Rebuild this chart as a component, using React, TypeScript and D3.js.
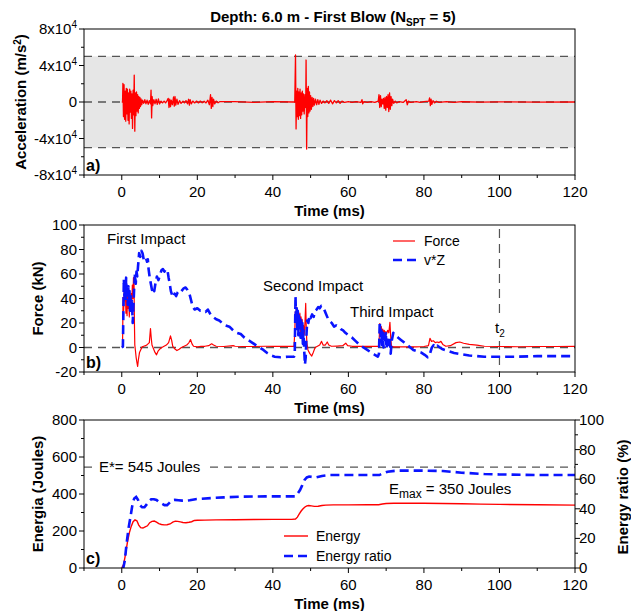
import React from "react";
import * as d3 from "d3";

const FONT = '"Liberation Sans", Arial, Helvetica, sans-serif';

// ---- shared time axis ----
const timeDomain = [-10, 120];
const timeTicks = [0, 20, 40, 60, 80, 100, 120];
const timeMinorTicks = [-10, 10, 30, 50, 70, 90, 110];

// ---- a) acceleration (units of 10^4 m/s²) ----
const accTicks = [8, 4, 0, -4, -8];
const accMinorTicks = [6, 2, -2, -6];
const accLimit = 5;
const accTime = [
  0, 0.2, 0.3, 0.45, 0.6, 0.75, 0.9, 1.05, 1.2, 1.35, 1.5, 1.65, 1.8, 1.95, 2.1, 2.25, 2.4, 2.55, 2.7, 2.85,
  3.0, 3.15, 3.3, 3.45, 3.6, 3.75, 3.9, 4.05, 4.2, 4.35, 4.5, 4.65, 4.8, 4.95, 5.1, 5.3, 5.5, 5.8, 6.1, 6.4,
  6.7, 7.0, 7.3, 7.6, 7.75, 7.9, 8.05, 8.2, 8.5, 8.8, 9.1, 9.4, 9.7, 10.0, 10.4, 10.8, 11.2, 11.6, 12.0, 12.3,
  12.5, 12.7, 12.9, 13.1, 13.4, 13.7, 13.9, 14.1, 14.3, 14.6, 14.9, 15.3, 15.7, 16.2, 16.6, 17.0, 17.4, 17.7, 17.9, 18.1,
  18.4, 18.8, 19.3, 19.8, 20.3, 20.8, 21.3, 21.8, 22.3, 22.8, 23.2, 23.5, 23.7, 23.9, 24.1, 24.3, 24.6, 25.0, 25.5, 26,
  30, 35, 40, 45.5, 45.8, 46.0, 46.15, 46.3, 46.45, 46.6, 46.75, 46.9, 47.05, 47.2, 47.35, 47.5, 47.65, 47.8, 47.95, 48.1,
  48.3, 48.5, 48.7, 48.8, 48.95, 49.1, 49.25, 49.4, 49.55, 49.7, 49.85, 50.0, 50.2, 50.4, 50.6, 50.8, 51.0, 51.3, 51.6, 51.9,
  52.2, 52.5, 52.9, 53.3, 53.8, 54.3, 54.8, 55.3, 55.8, 56.3, 56.8, 57.3, 57.8, 58.3, 59, 60, 61, 62, 63.3, 63.6,
  63.8, 64.1, 65, 66, 67, 67.9, 68.1, 68.3, 68.5, 68.7, 68.9, 69.1, 69.3, 69.5, 69.7, 69.9, 70.1, 70.3, 70.5, 70.7,
  70.9, 71.1, 71.3, 71.5, 71.7, 72.0, 72.4, 72.8, 73.5, 74.5, 75.3, 75.6, 75.9, 76.5, 78, 79, 80, 81.3, 81.5, 81.7,
  81.9, 82.1, 82.4, 82.8, 83.3, 84, 86, 88, 90, 95, 100, 110, 120,
];
const accValue = [
  0, 0, 2.05, -1.6, 1.9, -1.9, 1.2, -2.1, 1.5, -1.3, 1.4, -2.0, 1.0, -2.4, 1.4, -1.1, 1.2, -1.8, 0.9, -2.9,
  1.3, -1.4, 2.95, -3.2, 1.0, -1.5, 1.1, -1.0, 0.8, -1.2, 0.6, -0.7, 0.5, -0.5, 0.35, -0.3, 0.2, -0.15, 0.25, -0.2,
  0.2, -0.25, 0.15, -0.2, 1.3, -1.75, 0.6, -0.4, 0.25, -0.2, 0.3, -0.25, 0.35, -0.2, 0.1, -0.1, 0.1, -0.1, 0.15, 0.4,
  -0.6, 0.3, -0.5, 0.2, -0.3, 0.55, -0.45, 0.6, -0.35, 0.3, -0.25, 0.15, -0.15, 0.1, -0.1, 0.15, -0.2, 0.3, -0.35, 0.25,
  -0.2, 0.1, -0.1, 0.1, -0.1, 0.1, -0.08, 0.08, -0.1, 0.2, -0.3, 0.8, -0.7, 0.5, -0.5, 0.3, -0.2, 0.1, -0.08, 0.05,
  0.05, -0.04, 0.04, 0, 0, 5.15, -2.95, 1.2, -1.6, 1.5, -1.9, 1.1, -1.5, 1.4, -1.8, 1.0, -1.4, 1.2, -1.0, 0.9,
  -1.3, 0.8, -0.6, 4.6, -5.15, 1.5, -1.6, 1.7, -1.2, 1.1, -1.0, 0.7, -0.8, 0.5, -0.5, 0.4, -0.35, 0.3, -0.3, 0.25,
  -0.25, 0.2, -0.15, 0.1, -0.1, 0.15, -0.15, 0.2, -0.2, 0.15, -0.1, 0.15, -0.15, 0.1, -0.05, 0.05, -0.05, 0.05, -0.05, 0.25,
  -0.2, 0.05, -0.04, 0.04, -0.05, 0.1, 0.8, -0.6, 0.7, -0.5, 0.3, -0.2, 0.4, -0.7, 0.5, -0.9, 0.6, -0.6, 0.8, -1.05,
  1.0, -0.8, 0.6, -0.4, 0.3, -0.15, 0.1, -0.1, 0.05, -0.05, 0.25, -0.3, 0.1, -0.05, 0.05, -0.05, 0.05, 0.1, 0.45, -0.4,
  0.3, -0.25, 0.15, -0.1, 0.08, -0.05, 0.04, -0.03, 0.03, -0.02, 0.02, -0.01, 0,
];

// ---- b) force and v*Z (kN) ----
const forceTicks = [100, 80, 60, 40, 20, 0, -20];
const forceMinorTicks = [90, 70, 50, 30, 10, -10];
const t2 = 100;
const forceTime = [
  0.0, 0.2, 0.35, 0.5, 0.65, 0.8, 0.95, 1.1, 1.25, 1.4, 1.55, 1.7, 1.85, 2.0, 2.15, 2.3, 2.5, 2.65, 2.8, 2.95,
  3.1, 3.25, 3.35, 3.45, 3.6, 3.8, 4.0, 4.2, 4.4, 4.7, 5.0, 5.4, 5.8, 6.3, 6.8, 7.3, 7.6, 7.8, 8.0, 8.4,
  8.8, 9.2, 9.6, 10.0, 10.6, 11.2, 11.8, 12.4, 12.9, 13.2, 13.5, 14.0, 14.6, 15.2, 15.8, 16.5, 17.2, 17.8, 18.2, 18.6,
  19.0, 20, 21, 22, 23, 23.8, 24.3, 25, 27, 29.5, 30, 32, 35, 38, 40, 42, 44, 45.6, 45.8, 45.95,
  46.1, 46.25, 46.4, 46.55, 46.7, 46.85, 47.0, 47.15, 47.3, 47.45, 47.6, 47.75, 47.9, 48.1, 48.3, 48.5, 48.7, 48.85, 49.0, 49.3,
  49.8, 50.3, 50.7, 51.2, 51.8, 52.4, 52.9, 53.3, 53.9, 54.4, 54.8, 55.5, 57, 58.5, 59.3, 59.8, 61, 63, 65, 67,
  68.1, 68.3, 68.5, 68.7, 68.9, 69.1, 69.3, 69.5, 69.7, 69.9, 70.1, 70.4, 70.7, 71.0, 71.2, 71.4, 72, 74, 76, 78,
  80, 81.2, 81.6, 82.0, 82.5, 83, 83.5, 84.0, 84.5, 85, 85.8, 87, 88.5, 89.5, 90.5, 92, 94, 96, 100, 105,
  110, 115, 120,
];
const forceValue = [
  0.5, 0.6, 41, 30, 46, 38, 49, 28, 43, 26, 45, 32, 40, 25, 37, 30, 44, 34, 51, 40,
  57, 53, 20, 2, -2, -8, -12, -15.5, -10, -4, -2, 0.5, 1, 1.5, 2.5, 4, 15.5, 8, 2, -1,
  -4, -6, -3, -1.5, 0, 1, 2, 4, 9.5, 6, 1, -1, -2.5, -1.5, 0, 1, 2, 4, 6.5, 3,
  1, 0.5, 1, 1, 1.5, 3, 2, 1, 0.8, 1.5, 1, 0.8, 0.8, 1, 1, 1, 1, 1, 12, 29,
  22, 33, 18, 30, 14, 27, 20, 28, 12, 25, 17, 23, 9, 18, 10, 20, 36, 15, 4, -2,
  -5, -7, -4, 0, 1, 2, 5, 2, 2, 4.5, 2, 1, 1.2, 1.5, 3.5, 1.5, 1, 1, 1, 1,
  1, 19.5, 14, 17, 12, 15, 11, 14, 10, 13, 11, 14, 12, 20.5, 9, 1, 0.5, 0.6, 0.5, 0.5,
  0.8, 1.5, 7.5, 5, 5.5, 4, 4.5, 4, 5, 2.5, 1, 1.5, 4, 4.5, 3.5, 2.5, 2, 1, 0.8, 0.6,
  0.8, 0.8, 1,
];
const vzTime = [
  0.0, 0.3, 0.55, 0.7, 0.85, 1.0, 1.15, 1.3, 1.45, 1.6, 1.75, 1.9, 2.05, 2.2, 2.35, 2.5, 2.7, 2.9, 3.1, 3.3,
  3.5, 3.7, 3.9, 4.1, 4.3, 4.6, 4.9, 5.2, 5.5, 5.8, 6.1, 6.4, 6.7, 6.9, 7.1, 7.4, 7.7, 8.0, 8.3, 8.6,
  8.9, 9.3, 9.7, 10.1, 10.5, 10.9, 11.3, 11.7, 12.1, 12.4, 12.7, 13.0, 13.3, 13.6, 14.0, 14.4, 14.8, 15.3, 15.8, 16.3,
  16.9, 17.4, 17.9, 18.4, 18.8, 19.3, 20.0, 20.8, 21.5, 22.2, 22.8, 23.5, 24.2, 25.0, 25.8, 26.6, 27.5, 28.5, 29.5, 30.5,
  31.5, 32.5, 33.5, 34.5, 35.5, 36.5, 37.5, 38.5, 39.5, 40.5, 42, 44, 45.6, 45.8, 46.0, 46.15, 46.3, 46.45, 46.6, 46.75,
  46.9, 47.05, 47.2, 47.35, 47.5, 47.65, 47.8, 47.95, 48.1, 48.3, 48.5, 48.7, 48.9, 49.1, 49.4, 49.7, 50.0, 50.4, 50.8, 51.2,
  51.6, 52.0, 52.4, 52.8, 53.2, 53.6, 54.0, 54.4, 54.8, 55.2, 55.6, 56.2, 56.8, 57.4, 58.0, 58.6, 59.2, 60.0, 61.0, 62.0,
  63.0, 64.0, 65.0, 66.0, 67.0, 67.8, 68.1, 68.3, 68.5, 68.7, 68.9, 69.1, 69.3, 69.5, 69.7, 69.9, 70.1, 70.3, 70.6, 70.9,
  71.2, 71.5, 71.9, 72.5, 73.2, 74.0, 74.8, 75.6, 76.4, 77.2, 78.2, 79.2, 80.2, 81.0, 81.6, 82.1, 82.6, 83.1, 83.6, 84.2,
  85, 86.5, 88, 90, 92, 94, 96, 100, 105, 110, 115, 120,
];
const vzValue = [
  0, 0.6, 56, 42, 50, 38, 57, 44, 48, 35, 50, 39, 46, 30, 42, 34, 38, 20, 35, 50,
  60, 52, 62, 58, 66, 77, 74, 79, 77, 72, 74, 73, 70, 72, 64, 57, 52, 47, 49, 46,
  52, 58, 55, 59, 63, 64, 62, 64, 63, 57, 52, 46, 43, 41, 44, 42, 45, 47, 46, 48,
  49, 47, 44, 38, 33, 31, 32, 30, 30, 29, 31, 27, 25, 23, 22, 20, 18, 17, 14, 12,
  11, 8, 6, 4, 2, 0, -2, -4.5, -6.5, -7.5, -8, -7.5, -7.5, -6, 42, 20, 33, 12, 30, 10,
  28, 15, 25, 8, 22, 12, 20, 3, 14, -2, -14, -8, 10, 22, 20, 26, 24, 27, 25, 30,
  31, 33, 32, 34, 33, 31, 28, 25, 22, 21, 20, 17, 18, 17, 15, 14, 12, 10, 8, 5,
  2, 0, -2, -4, -6, -7.5, -5, 21, 8, 14, 2, 12, 0, 10, 4, 13, -1, 8, 2, 9,
  -5, 6, 12, 10, 8, 6, 4, 2, 0, -2, -3, -4, -6, -8, -5, 0, 2, 0, 1.5, 0,
  -1.5, -3, -4.5, -5.5, -6.5, -7, -7.5, -7.5, -7.5, -7, -7, -7,
];

// ---- c) energy (J) and energy ratio (%) ----
const energyTicks = [0, 200, 400, 600, 800];
const energyMinorTicks = [100, 300, 500, 700];
const ratioTicks = [0, 20, 40, 60, 80, 100];
const ratioMinorTicks = [10, 30, 50, 70, 90];
const eStar = 545;
const eMax = 350;
const energyTime = [
  0, 0.5, 1.0, 1.5, 2.0, 2.5, 3.0, 3.5, 4.0, 4.5, 5.0, 5.6, 6.2, 6.8, 7.4, 8.0, 8.6, 9.2, 9.8, 10.5,
  11.2, 12.0, 12.8, 13.5, 14.2, 14.8, 15.5, 16.2, 17.0, 17.8, 18.5, 19.2, 20, 22, 25, 30, 35, 40, 45, 46,
  46.5, 47, 47.5, 48, 48.5, 49, 49.5, 50.2, 51, 52, 53, 54, 56, 60, 65, 68, 69, 70, 72, 75,
  80, 85, 90, 95, 100, 110, 120,
];
const energyValue = [
  0, 20, 75, 140, 190, 225, 250, 260, 255, 232, 218, 216, 222, 228, 245, 252, 254, 248, 240, 235,
  233, 234, 238, 248, 253, 252, 249, 246, 245, 247, 250, 257, 258, 259, 260, 261, 262, 263, 263, 265,
  275, 292, 308, 320, 330, 336, 338, 336, 333, 334, 338, 340, 341, 341, 342, 342, 346, 349, 350, 350,
  350, 349, 347, 345, 344, 342, 340,
];
const ratioTime = [
  0, 0.4, 0.8, 1.3, 1.8, 2.4, 2.9, 3.3, 3.8, 4.3, 4.8, 5.4, 6.0, 6.6, 7.2, 7.8, 8.5, 9.2, 9.9, 10.6,
  11.3, 12.0, 12.6, 13.2, 14.0, 15, 16, 17, 18, 19.5, 21, 24, 27, 32, 38, 46, 46.5, 47.2, 47.8, 48.4,
  49.0, 49.6, 50.5, 51.5, 53, 55, 60, 65, 68.2, 69.2, 70.4, 73, 80, 85, 90, 96, 100, 110, 120,
];
const ratioValue = [
  0, 0, 5, 17, 27, 36, 44, 47, 48, 46, 42.5, 41, 41, 43, 45, 46.5, 46.5, 46, 44.5, 43.5,
  42.5, 42.5, 44, 45.7, 46, 45.8, 45.5, 45.5, 45.8, 46.5, 46.8, 47.3, 47.7, 48.2, 48.4, 48.4, 50, 52.7, 56, 59.5,
  61.2, 61.8, 61.5, 61.3, 62.2, 62.8, 62.8, 62.8, 62.8, 64, 65.1, 65.8, 65.8, 65.5, 64.4, 63.5, 63.2, 62.8, 62.8,
];

// ---- layout ----
const W = 631;
const H = 611;
const LEFT = 84;
const RIGHT = 575;
const A = { top: 29, bottom: 175 };
const B = { top: 225, bottom: 372 };
const C = { top: 420, bottom: 568 };

const RED = "#ff0000";
const BLUE = "#0a14ff";
const GUIDE = "#555555";
const GUIDE_DASH = "8 6";
const BLUE_DASH = "9 5";
const TICK_FONT = 15;

const x = d3.scaleLinear().domain(timeDomain).range([LEFT, RIGHT]);

function series(xs: number[], ys: number[], sy: d3.ScaleLinear<number, number>) {
  const line = d3
    .line<number>()
    .x((i) => x(xs[i]))
    .y((i) => sy(ys[i]));
  return line(d3.range(Math.min(xs.length, ys.length))) ?? "";
}

function TimeAxis({ bottom }: { bottom: number }) {
  return (
    <g>
      {timeTicks.map((t) => (
        <g key={t}>
          <line x1={x(t)} x2={x(t)} y1={bottom} y2={bottom + 5} stroke="#000" />
          <text x={x(t)} y={bottom + 22} textAnchor="middle" fontSize={TICK_FONT}>
            {t}
          </text>
        </g>
      ))}
      {timeMinorTicks.map((t) => (
        <line key={t} x1={x(t)} x2={x(t)} y1={bottom} y2={bottom + 3} stroke="#000" />
      ))}
      <text x={(LEFT + RIGHT) / 2} y={bottom + 41} textAnchor="middle" fontSize={15} fontWeight="bold">
        Time (ms)
      </text>
    </g>
  );
}

function LeftTicks({
  sy,
  major,
  minor,
  label,
}: {
  sy: d3.ScaleLinear<number, number>;
  major: number[];
  minor: number[];
  label: (v: number) => React.ReactNode;
}) {
  return (
    <g>
      {major.map((v) => (
        <g key={v}>
          <line x1={LEFT - 5} x2={LEFT} y1={sy(v)} y2={sy(v)} stroke="#000" />
          <text x={LEFT - 7} y={sy(v) + 5} textAnchor="end" fontSize={TICK_FONT}>
            {label(v)}
          </text>
        </g>
      ))}
      {minor.map((v) => (
        <line key={v} x1={LEFT - 3} x2={LEFT} y1={sy(v)} y2={sy(v)} stroke="#000" />
      ))}
    </g>
  );
}

function Frame({ top, bottom }: { top: number; bottom: number }) {
  return <rect x={LEFT} y={top} width={RIGHT - LEFT} height={bottom - top} fill="none" stroke="#000" strokeWidth={1} />;
}

export default function App() {
  const ya = d3.scaleLinear().domain([-8, 8]).range([A.bottom, A.top]);
  const yb = d3.scaleLinear().domain([-20, 100]).range([B.bottom, B.top]);
  const yc = d3.scaleLinear().domain([0, 800]).range([C.bottom, C.top]);
  const yr = d3.scaleLinear().domain([0, 100]).range([C.bottom, C.top]);

  const clipA = "clip-a";
  const clipB = "clip-b";
  const clipC = "clip-c";

  return (
    <svg
      width={W}
      height={H}
      viewBox={`0 0 ${W} ${H}`}
      style={{ position: "absolute", left: 0, top: 0, background: "#fff" }}
      fontFamily={FONT}
      fill="#000"
    >
      <defs>
        <clipPath id={clipA}>
          <rect x={LEFT} y={A.top} width={RIGHT - LEFT} height={A.bottom - A.top} />
        </clipPath>
        <clipPath id={clipB}>
          <rect x={LEFT} y={B.top} width={RIGHT - LEFT} height={B.bottom - B.top} />
        </clipPath>
        <clipPath id={clipC}>
          <rect x={LEFT} y={C.top} width={RIGHT - LEFT} height={C.bottom - C.top} />
        </clipPath>
      </defs>
      <rect x={0} y={0} width={W} height={H} fill="#fff" />

      {/* title */}
      <text x={333} y={22} textAnchor="middle" fontSize={15} fontWeight="bold">
        Depth: 6.0 m - First Blow (N
        <tspan fontSize={10} dy={4}>
          SPT
        </tspan>
        <tspan fontSize={15} dy={-4}>
          {" = 5)"}
        </tspan>
      </text>

      {/* ---------- panel a ---------- */}
      <rect
        x={LEFT}
        y={ya(accLimit)}
        width={RIGHT - LEFT}
        height={ya(-accLimit) - ya(accLimit)}
        fill="#e6e6e6"
      />
      {[accLimit, 0, -accLimit].map((v) => (
        <line
          key={v}
          x1={LEFT}
          x2={RIGHT}
          y1={ya(v)}
          y2={ya(v)}
          stroke={GUIDE}
          strokeWidth={1.4}
          strokeDasharray={GUIDE_DASH}
        />
      ))}
      <path
        d={series(accTime, accValue, ya)}
        fill="none"
        stroke={RED}
        strokeWidth={1.3}
        strokeLinejoin="round"
        clipPath={`url(#${clipA})`}
      />
      <Frame top={A.top} bottom={A.bottom} />
      <LeftTicks
        sy={ya}
        major={accTicks}
        minor={accMinorTicks}
        label={(v) =>
          v === 0 ? (
            "0"
          ) : (
            <>
              {`${v}x10`}
              <tspan fontSize={10} dy={-6}>
                4
              </tspan>
            </>
          )
        }
      />
      <TimeAxis bottom={A.bottom} />
      <text
        transform={`translate(21,${(A.top + A.bottom) / 2}) rotate(-90)`}
        textAnchor="middle"
        dy="0.35em"
        fontSize={15}
        fontWeight="bold"
      >
        Acceleration (m/s
        <tspan fontSize={10} dy={-5}>
          2
        </tspan>
        <tspan fontSize={15} dy={5}>
          )
        </tspan>
      </text>
      <text x={86} y={A.bottom - 4} fontSize={16} fontWeight="bold">
        a)
      </text>

      {/* ---------- panel b ---------- */}
      <line
        x1={LEFT}
        x2={RIGHT}
        y1={yb(0)}
        y2={yb(0)}
        stroke={GUIDE}
        strokeWidth={1.4}
        strokeDasharray={GUIDE_DASH}
      />
      <line x1={x(t2)} x2={x(t2)} y1={B.top + 4} y2={317} stroke={GUIDE} strokeWidth={1.2} strokeDasharray="9 6" />
      <line x1={x(t2)} x2={x(t2)} y1={341} y2={B.bottom} stroke={GUIDE} strokeWidth={1.2} strokeDasharray="9 6" />
      <g clipPath={`url(#${clipB})`}>
        <path d={series(forceTime, forceValue, yb)} fill="none" stroke={RED} strokeWidth={1.2} strokeLinejoin="round" />
        <path
          d={series(vzTime, vzValue, yb)}
          fill="none"
          stroke={BLUE}
          strokeWidth={2.6}
          strokeDasharray={BLUE_DASH}
          strokeLinejoin="round"
        />
      </g>
      <Frame top={B.top} bottom={B.bottom} />
      <LeftTicks sy={yb} major={forceTicks} minor={forceMinorTicks} label={(v) => String(v)} />
      <TimeAxis bottom={B.bottom} />
      <text
        transform={`translate(38,${(B.top + B.bottom) / 2}) rotate(-90)`}
        textAnchor="middle"
        dy="0.35em"
        fontSize={15}
        fontWeight="bold"
      >
        Force (kN)
      </text>
      <text x={86} y={B.bottom - 4} fontSize={16} fontWeight="bold">
        b)
      </text>
      <text x={107} y={244} fontSize={15}>
        First Impact
      </text>
      <text x={263} y={291} fontSize={15}>
        Second Impact
      </text>
      <text x={350} y={317} fontSize={15}>
        Third Impact
      </text>
      <text x={495} y={333} fontSize={15}>
        t
        <tspan fontSize={10} dy={4}>
          2
        </tspan>
      </text>
      {/* legend */}
      <line x1={393} x2={415} y1={241} y2={241} stroke={RED} strokeWidth={1.2} />
      <text x={424} y={246} fontSize={14}>
        Force
      </text>
      <line x1={393} x2={416} y1={260} y2={260} stroke={BLUE} strokeWidth={2.6} strokeDasharray={BLUE_DASH} />
      <text x={424} y={265} fontSize={14}>
        v*Z
      </text>

      {/* ---------- panel c ---------- */}
      <line
        x1={LEFT}
        x2={RIGHT}
        y1={yc(eStar)}
        y2={yc(eStar)}
        stroke={GUIDE}
        strokeWidth={1.2}
        strokeDasharray={GUIDE_DASH}
      />
      <rect x={96} y={yc(eStar) - 9} width={111} height={18} fill="#fff" />
      <text x={99} y={yc(eStar) + 5} fontSize={15}>
        {`E*= ${eStar} Joules`}
      </text>
      <g clipPath={`url(#${clipC})`}>
        <path d={series(energyTime, energyValue, yc)} fill="none" stroke={RED} strokeWidth={1.4} />
        <path
          d={series(ratioTime, ratioValue, yr)}
          fill="none"
          stroke={BLUE}
          strokeWidth={2.6}
          strokeDasharray={BLUE_DASH}
        />
      </g>
      <Frame top={C.top} bottom={C.bottom} />
      <LeftTicks sy={yc} major={energyTicks} minor={energyMinorTicks} label={(v) => String(v)} />
      {ratioTicks.map((v) => (
        <g key={v}>
          <line x1={RIGHT} x2={RIGHT + 5} y1={yr(v)} y2={yr(v)} stroke="#000" />
          <text x={RIGHT + 4} y={yr(v) + 5} fontSize={TICK_FONT}>
            {v}
          </text>
        </g>
      ))}
      {ratioMinorTicks.map((v) => (
        <line key={v} x1={RIGHT} x2={RIGHT + 3} y1={yr(v)} y2={yr(v)} stroke="#000" />
      ))}
      <TimeAxis bottom={C.bottom} />
      <text
        transform={`translate(38,${(C.top + C.bottom) / 2}) rotate(-90)`}
        textAnchor="middle"
        dy="0.35em"
        fontSize={15}
        fontWeight="bold"
      >
        Energia (Joules)
      </text>
      <text
        transform={`translate(623,${(C.top + C.bottom) / 2 + 3}) rotate(-90)`}
        textAnchor="middle"
        dy="0.35em"
        fontSize={15}
        fontWeight="bold"
      >
        Energy ratio (%)
      </text>
      <text x={86} y={C.bottom - 4} fontSize={16} fontWeight="bold">
        c)
      </text>
      <text x={389} y={494} fontSize={15}>
        E
        <tspan fontSize={12} dy={4}>
          max
        </tspan>
        <tspan fontSize={15} dy={-4}>
          {` = ${eMax} Joules`}
        </tspan>
      </text>
      {/* legend */}
      <line x1={284} x2={308} y1={536} y2={536} stroke={RED} strokeWidth={1.4} />
      <text x={316} y={541} fontSize={14}>
        Energy
      </text>
      <line x1={284} x2={309} y1={556} y2={556} stroke={BLUE} strokeWidth={2.6} strokeDasharray={BLUE_DASH} />
      <text x={316} y={561} fontSize={14}>
        Energy ratio
      </text>
    </svg>
  );
}
